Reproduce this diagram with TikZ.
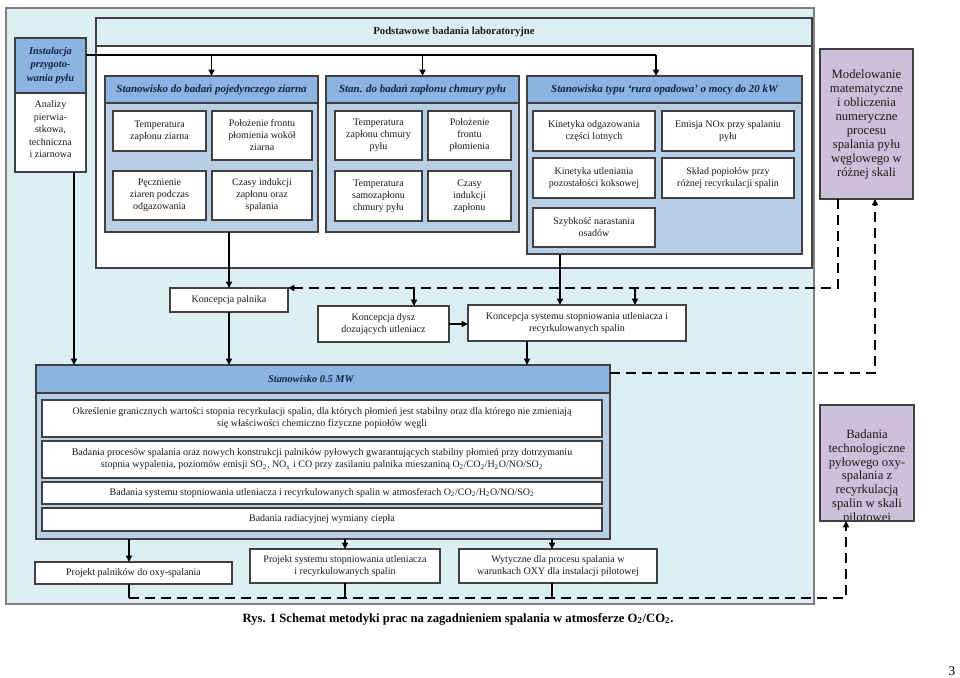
\documentclass[tikz,border=0pt]{standalone}
\usepackage{fontspec}
\setmainfont{Liberation Serif}
\usetikzlibrary{arrows.meta}
\definecolor{bgblue}{HTML}{DBEEF4}
\definecolor{hdrblue}{HTML}{8DB3E2}
\definecolor{bodyblue}{HTML}{B9CDE5}
\definecolor{purp}{HTML}{CCC0DA}
\definecolor{bord}{HTML}{404040}
\definecolor{navy}{HTML}{10253F}
\definecolor{txt}{HTML}{1A1A1A}
\newcommand\fsA{\fontsize{7.5}{9}\selectfont}
\newcommand\fsH{\fontsize{8.2}{9.6}\selectfont\bfseries\itshape}
\newcommand\fsP{\fontsize{9.5}{10.3}\selectfont}
\newcommand\mybox[7]{\node[#1, anchor=north west, minimum width={(#5-#3)*0.75pt}, minimum height={(#6-#4)*0.75pt}] (#2) at (#3,#4) {#7};}
\tikzset{
  base/.style={inner sep=0pt, outer sep=0pt, align=center, text=txt},
  wbox/.style={base, draw=bord, line width=0.9pt, fill=white, font=\fsA},
  panelbody/.style={base, draw=bord, line width=0.9pt, fill=bodyblue},
  panelhdr/.style={base, draw=bord, line width=0.9pt, fill=hdrblue, font=\fsH, text=navy},
  pbox/.style={base, draw=bord, line width=0.9pt, fill=purp, font=\fsP, text=txt},
  cline/.style={line width=1.1pt, black},
  carr/.style={cline, -{Triangle[length=4.8pt,width=4.5pt]}},
  dline/.style={line width=1.4pt, black, dash pattern=on 7.5pt off 4.5pt},
  darr/.style={dline, -{Triangle[length=4.8pt,width=4.5pt]}},
}
\begin{document}
\begin{tikzpicture}[x=0.75pt,y=-0.75pt]
\useasboundingbox (0,0) rectangle (960,678);
% background
\mybox{base, fill=bgblue, draw=gray, line width=0.8pt}{bg}{6}{8}{814}{604}{}
% Podstawowe
\mybox{base, fill=white, draw=bord, line width=0.9pt}{pod}{96}{18}{812}{268}{}
\mybox{base, fill=bgblue, draw=bord, line width=0.9pt, font=\fontsize{8}{9.6}\selectfont\bfseries}{podh}{96}{18}{812}{46}{Podstawowe badania laboratoryjne}
% Instalacja
\mybox{wbox}{inst}{15}{38}{86}{172}{}
\mybox{panelhdr, font=\fontsize{7.8}{10.3}\selectfont\bfseries\itshape}{insth}{15}{38}{86}{93}{Instalacja\\przygoto-\\wania pyłu}
\node[base, font=\fontsize{7.5}{9.3}\selectfont, anchor=north] (instt) at (50.5,101) {Analizy\\pierwia-\\stkowa,\\techniczna\\i ziarnowa};
% Panel 1
\mybox{panelbody}{sp1}{105}{76}{318}{232}{}
\mybox{panelhdr}{sp1h}{105}{76}{318}{103}{Stanowisko do badań pojedynczego ziarna}
\mybox{wbox}{a1}{113}{111}{206}{151}{Temperatura\\zapłonu ziarna}
\mybox{wbox}{a2}{212}{111}{312}{160}{Położenie frontu\\płomienia wokół\\ziarna}
\mybox{wbox}{a3}{113}{171}{206}{220}{Pęcznienie\\ziaren podczas\\odgazowania}
\mybox{wbox}{a4}{212}{171}{312}{220}{Czasy indukcji\\zapłonu oraz\\spalania}
% Panel 2
\mybox{panelbody}{sp2}{326}{76}{519}{232}{}
\mybox{panelhdr}{sp2h}{326}{76}{519}{103}{Stan. do badań zapłonu chmury pyłu}
\mybox{wbox}{b1}{335}{111}{422}{160}{Temperatura\\zapłonu chmury\\pyłu}
\mybox{wbox}{b2}{428}{111}{511}{160}{Położenie\\frontu\\płomienia}
\mybox{wbox}{b3}{335}{171}{422}{221}{Temperatura\\samozapłonu\\chmury pyłu}
\mybox{wbox}{b4}{428}{171}{511}{221}{Czasy\\indukcji\\zapłonu}
% Panel 3
\mybox{panelbody}{sp3}{527}{76}{802}{254}{}
\mybox{panelhdr}{sp3h}{527}{76}{802}{103}{Stanowiska typu `rura opadowa' o mocy do 20 kW}
\mybox{wbox}{c1}{533}{111}{655}{151}{Kinetyka odgazowania\\części lotnych}
\mybox{wbox}{c2}{662}{111}{794}{151}{Emisja NOx przy spalaniu\\pyłu}
\mybox{wbox}{c3}{533}{158}{655}{198}{Kinetyka utleniania\\pozostałości koksowej}
\mybox{wbox}{c4}{662}{158}{794}{198}{Skład popiołów przy\\różnej recyrkulacji spalin}
\mybox{wbox}{c5}{533}{208}{655}{247}{Szybkość narastania\\osadów}
% right purple boxes
\mybox{pbox, font=\fontsize{9.5}{10.5}\selectfont}{model}{820}{49}{913}{199}{Modelowanie\\matematyczne\\i obliczenia\\numeryczne\\procesu\\spalania pyłu\\węglowego w\\różnej skali}
\mybox{base, fill=purp}{bad}{820}{405}{914}{521}{}
\begin{scope}
\clip (bad.south west) rectangle (bad.north east);
\node[base, font=\fsP, anchor=north] (badt) at (867,430) {Badania\\technologiczne\\pyłowego oxy-\\spalania z\\recyrkulacją\\spalin w skali\\pilotowej};
\end{scope}
\draw[draw=bord, line width=0.9pt] (bad.south west) rectangle (bad.north east);
% concept boxes
\mybox{wbox}{palnika}{170}{288}{288}{312}{Koncepcja palnika}
\mybox{wbox}{dysz}{318}{306}{449}{342}{Koncepcja dysz\\dozujących utleniacz}
\mybox{wbox}{systemu}{468}{305}{686}{341}{Koncepcja systemu stopniowania utleniacza i\\recyrkulowanych spalin}
% 0.5 MW panel
\mybox{panelbody}{mw}{36}{365}{610}{539}{}
\mybox{panelhdr}{mwh}{36}{365}{610}{393}{}
\node[base, font=\fontsize{7.8}{9.6}\selectfont\bfseries\itshape, text=navy] (mwt) at (311,379) {Stanowisko 0.5 MW};
\mybox{wbox}{m1}{42}{400}{602}{437}{Określenie granicznych wartości stopnia recyrkulacji spalin, dla których płomień jest stabilny oraz dla którego nie zmieniają\\się właściwości chemiczno fizyczne popiołów węgli}
\mybox{wbox}{m2}{42}{441}{602}{478}{Badania procesów spalania oraz nowych konstrukcji palników pyłowych gwarantujących stabilny płomień przy dotrzymaniu\\stopnia wypalenia, poziomów emisji SO\textsubscript{2}, NO\textsubscript{x} i CO przy zasilaniu palnika mieszaniną O\textsubscript{2}/CO\textsubscript{2}/H\textsubscript{2}O/NO/SO\textsubscript{2}}
\mybox{wbox}{m3}{42}{482}{602}{504}{Badania systemu stopniowania utleniacza i recyrkulowanych spalin w atmosferach O\textsubscript{2}/CO\textsubscript{2}/H\textsubscript{2}O/NO/SO\textsubscript{2}}
\mybox{wbox}{m4}{42}{508}{602}{531}{Badania radiacyjnej wymiany ciepła}
% bottom boxes
\mybox{wbox}{proj1}{35}{562}{232}{584}{Projekt palników do oxy-spalania}
\mybox{wbox}{proj2}{250}{549}{440}{583}{Projekt systemu stopniowania utleniacza\\i recyrkulowanych spalin}
\mybox{wbox}{proj3}{459}{549}{657}{583}{Wytyczne dla procesu spalania w\\warunkach OXY dla instalacji pilotowej}
% caption and page number
\node[base, font=\fontsize{9.5}{11}\selectfont\bfseries, text=black] (cap) at (458,619) {Rys. 1 Schemat metodyki prac na zagadnieniem spalania w atmosferze O\textsubscript{2}/CO\textsubscript{2}.};
\node[base, font=\fontsize{10}{12}\selectfont, text=black] (pg) at (952,671) {3};
% coordinates
\coordinate (tl) at (86,55);
\coordinate (x656) at (656,55);
\coordinate (ix) at (74,0);
\coordinate (x560) at (560,0);
\coordinate (x527) at (527,0);
\coordinate (d1) at (838,288);
\coordinate (x414) at (414,288);
\coordinate (x635) at (635,288);
\coordinate (d2) at (875,373);
\coordinate (b1) at (129,0);
\coordinate (b3) at (552,0);
\coordinate (d3) at (846,598);
% solid connectors
\draw[cline] (tl) -- (x656);
\draw[carr] (tl -| sp1h.north) -- (sp1h.north);
\draw[carr] (tl -| sp2h.north) -- (sp2h.north);
\draw[carr] (x656) -- (x656 |- sp3h.north);
\draw[carr] (inst.south -| ix) -- (mwh.north -| ix);
\draw[carr] (sp1.south -| palnika.north) -- (palnika.north);
\draw[carr] (palnika.south) -- (palnika.south |- mwh.north);
\draw[carr] (sp3.south -| x560) -- (systemu.north -| x560);
\draw[carr] (dysz.east) -- (dysz.east -| systemu.west);
\draw[carr] (systemu.south -| x527) -- (mwh.north -| x527);
\draw[carr] (mw.south -| b1) -- (proj1.north -| b1);
\draw[carr] (mw.south -| proj2.north) -- (proj2.north);
\draw[carr] (mw.south -| b3) -- (proj3.north -| b3);
% dashed connectors
\draw[darr] (model.south -| d1) |- (palnika.north east);
\draw[carr] (x414) -- (x414 |- dysz.north);
\draw[carr] (x635) -- (x635 |- systemu.north);
\draw[darr] (mwh.east |- d2) -- (d2) -- (d2 |- model.south);
\draw[cline] (proj1.south -| b1) -- (b1 |- d3);
\draw[cline] (proj2.south) -- (proj2.south |- d3);
\draw[cline] (proj3.south -| b3) -- (b3 |- d3);
\draw[darr] (b1 |- d3) -- (d3) -- (bad.south -| d3);
\end{tikzpicture}
\end{document}
